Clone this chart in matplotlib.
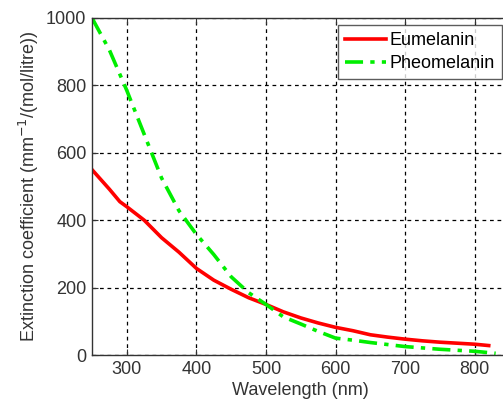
import matplotlib
matplotlib.use("Agg")
import matplotlib.pyplot as plt

plt.rcParams['font.family'] = ['Liberation Sans', 'DejaVu Sans']

eu_wl = [250, 275, 290, 300, 325, 350, 375, 400, 425, 450, 475, 500, 525, 550, 575, 600,
         625, 650, 675, 700, 725, 750, 775, 800, 820]
eu_val = [550, 492, 455, 440, 400, 348, 305, 257, 222, 195, 170, 150, 128, 110, 95, 82,
          72, 60, 53, 47, 42, 38, 35, 32, 28]
ph_wl = [250, 275, 300, 325, 350, 375, 400, 425, 450, 475, 500, 525, 550, 575, 600,
         625, 650, 675, 700, 725, 750, 775, 800, 830]
ph_val = [1000, 905, 785, 655, 525, 428, 358, 298, 232, 185, 150, 113, 92, 70, 50,
          44, 37, 31, 25, 21, 17, 14, 11, 5]

xticks = [300, 400, 500, 600, 700, 800]
yticks = [0, 200, 400, 600, 800, 1000]

W, H = 503, 403
fig = plt.figure(figsize=(W / 100, H / 100), dpi=100)
left, right, top, bottom = 92, 509.6, 18, 355
ax = fig.add_axes([left / W, 1 - bottom / H, (right - left) / W, (bottom - top) / H])

ax.plot(eu_wl, eu_val, color='#ff0000', lw=2.6, label='Eumelanin')
ax.plot(ph_wl, ph_val, color='#00ee00', lw=2.6, ls=(0, (5, 2, 1.2, 2)), label='Pheomelanin')

fs = 13
ax.set_xlim(250, 850)
ax.set_ylim(0, 1000)
ax.set_xticks(xticks)
ax.set_yticks(yticks)
ax.grid(True, color='black', ls=(0, (3, 3)), lw=0.9)
ax.tick_params(direction='in', top=True, right=True, length=4, labelsize=fs,
               colors='#333333', labelcolor='#333333', pad=4)
for s in ax.spines.values():
    s.set_color('#333333')
    s.set_linewidth(1.0)
ax.set_xlabel('Wavelength (nm)', fontsize=fs, color='#333333', labelpad=3)
ax.set_ylabel('Extinction coefficient (mm$^{-1}$/(mol/litre))', fontsize=fs,
              color='#333333', labelpad=4)
leg = ax.legend(loc='upper right', fontsize=fs, frameon=True, fancybox=False,
                edgecolor='#333333', handlelength=2.3, borderpad=0.4,
                labelspacing=0.3, handletextpad=0.2, borderaxespad=0.4)
leg.get_frame().set_linewidth(1.0)

fig.savefig('out.png', dpi=100)
